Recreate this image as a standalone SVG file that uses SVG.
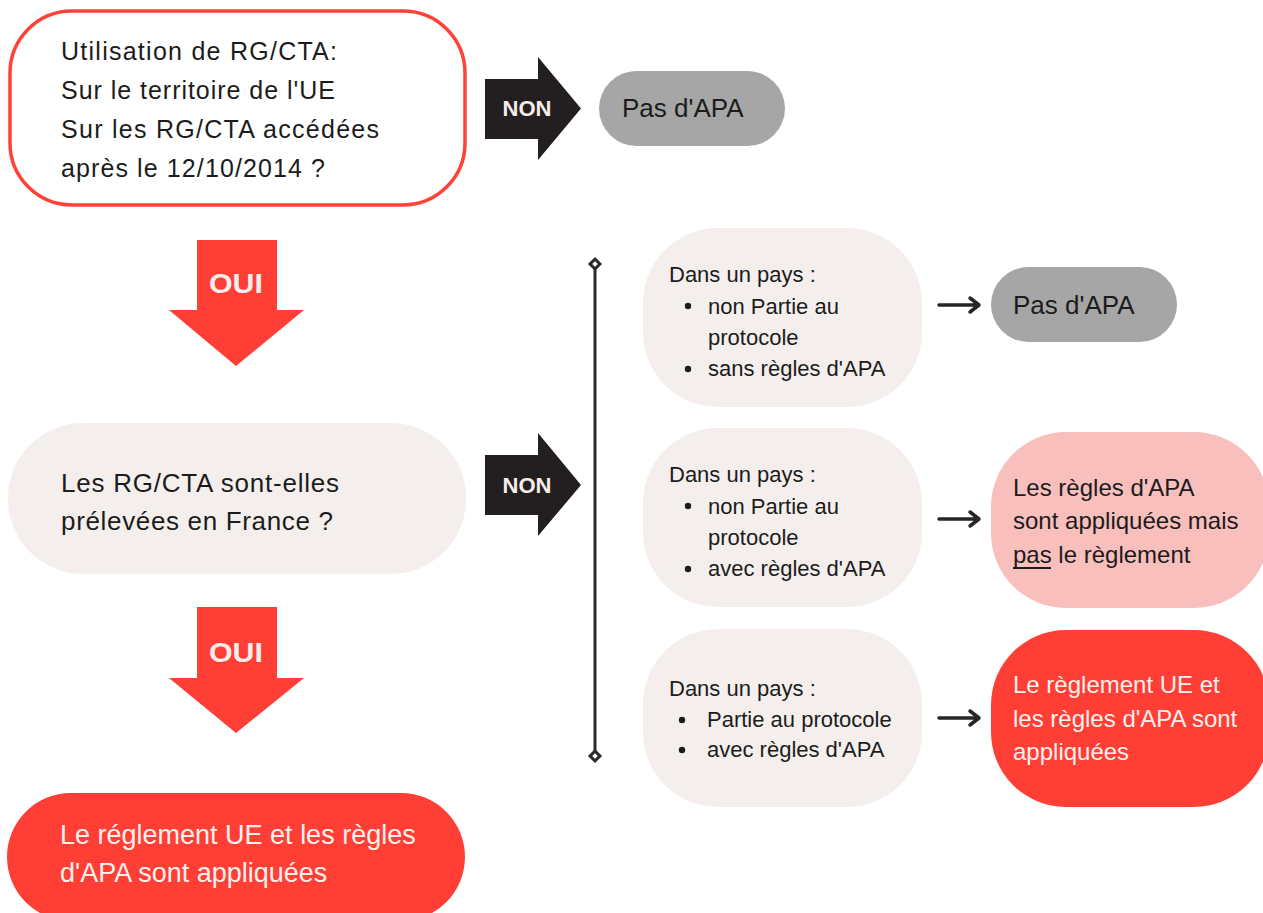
<svg xmlns="http://www.w3.org/2000/svg" width="1263" height="913" viewBox="0 0 1263 913">
<style>
  text { font-family: "Liberation Sans", Arial, sans-serif; }
  .dark { fill: #1c1c1c; }
  .t24 { font-size: 24px; }
  .t25 { font-size: 25px; }
  .t26 { font-size: 26px; }
  .t22 { font-size: 22px; }
  .light { fill: #fdf1ee; }
  .lbl { font-weight: bold; fill: #f5eeeb; text-anchor: middle; }
  .beige { fill: #f4efec; }
  .grey { fill: #a6a6a6; }
  .red { fill: #ff3e36; }
  .pink { fill: #f8bfbd; }
  .small { fill: none; stroke: #262626; stroke-width: 3.5; stroke-linecap: round; stroke-linejoin: round; }
  .diam { fill: #ffffff; stroke: #2b2b2b; stroke-width: 3; }
</style>
<rect width="1263" height="913" fill="#ffffff"/>

<g id="connectors">
  <g id="non1">
    <path d="M485,79 H538 V57 L581,108.5 L538,160 V139 H485 Z" fill="#231f20"/>
    <text class="lbl" x="527" y="116" font-size="22">NON</text>
  </g>
  <g id="oui1">
    <path d="M197,240 H277 V310 H304 L236,366 L169,310 H197 Z" class="red"/>
    <text class="lbl" x="236" y="293" font-size="27" textLength="54" lengthAdjust="spacingAndGlyphs">OUI</text>
  </g>
  <g id="non2">
    <path d="M485,455 H538 V433 L581,485 L538,536 V515 H485 Z" fill="#231f20"/>
    <text class="lbl" x="527" y="493" font-size="22">NON</text>
  </g>
  <g id="oui2">
    <path d="M197,607 H277 V678 H304 L236,733 L169,678 H197 Z" class="red"/>
    <text class="lbl" x="236" y="662" font-size="27" textLength="54" lengthAdjust="spacingAndGlyphs">OUI</text>
  </g>
  <g id="bracket">
    <line x1="595" y1="268" x2="595" y2="752" stroke="#2b2b2b" stroke-width="3"/>
    <rect x="591.5" y="260.5" width="7" height="7" transform="rotate(45 595 264)" class="diam"/>
    <rect x="591.5" y="752.5" width="7" height="7" transform="rotate(45 595 756)" class="diam"/>
  </g>
  <g id="arrow-a"><path class="small" d="M939,305 H978 M970,298 L979,305 L970,312"/></g>
  <g id="arrow-b"><path class="small" d="M939,519 H978 M970,512 L979,519 L970,526"/></g>
  <g id="arrow-c"><path class="small" d="M939,718 H978 M970,711 L979,718 L970,725"/></g>
</g>

<g id="node-question1">
  <rect x="10" y="11" width="455" height="194" rx="62" ry="62" fill="#ffffff" stroke="#ff4138" stroke-width="3.5"/>
  <text class="dark t25" x="61" y="60" textLength="276" lengthAdjust="spacing">Utilisation de RG/CTA:</text>
  <text class="dark t25" x="61" y="99" textLength="274" lengthAdjust="spacing">Sur le territoire de l'UE</text>
  <text class="dark t25" x="61" y="138" textLength="318" lengthAdjust="spacing">Sur les RG/CTA accédées</text>
  <text class="dark t25" x="61" y="177" textLength="264" lengthAdjust="spacing">après le 12/10/2014 ?</text>
</g>

<g id="node-pas-apa-1">
  <rect x="599" y="71" width="186" height="75" rx="37.5" class="grey"/>
  <text class="dark t26" x="622" y="117">Pas d'APA</text>
</g>

<g id="node-question2">
  <rect x="8" y="423" width="458" height="151" rx="75" class="beige"/>
  <text class="dark t26" x="61" y="492" textLength="278" lengthAdjust="spacing">Les RG/CTA sont-elles</text>
  <text class="dark t26" x="61" y="530" textLength="272" lengthAdjust="spacing">prélevées en France ?</text>
</g>

<g id="node-result-france">
  <rect x="7" y="793" width="458" height="128" rx="64" class="red"/>
  <text class="light" x="60" y="844" font-size="27">Le réglement UE et les règles</text>
  <text class="light" x="60" y="882" font-size="27">d'APA sont appliquées</text>
</g>

<g id="node-case1">
  <rect x="643" y="228" width="279" height="179" rx="75" class="beige"/>
  <text class="dark t22" x="669" y="282">Dans un pays :</text>
  <circle cx="688" cy="306" r="3.2" fill="#1c1c1c"/>
  <text class="dark t22" x="708" y="314">non Partie au</text>
  <text class="dark t22" x="708" y="345">protocole</text>
  <circle cx="688" cy="369" r="3.2" fill="#1c1c1c"/>
  <text class="dark t22" x="708" y="376">sans règles d'APA</text>
</g>

<g id="node-pas-apa-2">
  <rect x="991" y="267" width="186" height="75" rx="37.5" class="grey"/>
  <text class="dark t26" x="1013" y="314">Pas d'APA</text>
</g>

<g id="node-case2">
  <rect x="643" y="428" width="279" height="179" rx="75" class="beige"/>
  <text class="dark t22" x="669" y="482">Dans un pays :</text>
  <circle cx="688" cy="506" r="3.2" fill="#1c1c1c"/>
  <text class="dark t22" x="708" y="514">non Partie au</text>
  <text class="dark t22" x="708" y="545">protocole</text>
  <circle cx="688" cy="569" r="3.2" fill="#1c1c1c"/>
  <text class="dark t22" x="708" y="576">avec règles d'APA</text>
</g>

<g id="node-result2">
  <rect x="991" y="432" width="278" height="176" rx="75" class="pink"/>
  <text class="dark t24" x="1013" y="496">Les règles d'APA</text>
  <text class="dark t24" x="1013" y="529">sont appliquées mais</text>
  <text class="dark t24" x="1013" y="563">pas le règlement</text>
  <line x1="1013" y1="568" x2="1051" y2="568" stroke="#1c1c1c" stroke-width="2"/>
</g>

<g id="node-case3">
  <rect x="643" y="629" width="279" height="178" rx="75" class="beige"/>
  <text class="dark t22" x="669" y="696">Dans un pays :</text>
  <circle cx="682" cy="720" r="3.2" fill="#1c1c1c"/>
  <text class="dark t22" x="707" y="727">Partie au protocole</text>
  <circle cx="682" cy="750" r="3.2" fill="#1c1c1c"/>
  <text class="dark t22" x="707" y="757">avec règles d'APA</text>
</g>

<g id="node-result3">
  <rect x="991" y="630" width="278" height="177" rx="75" class="red"/>
  <text class="light t24" x="1013" y="693">Le règlement UE et</text>
  <text class="light t24" x="1013" y="727">les règles d'APA sont</text>
  <text class="light t24" x="1013" y="760">appliquées</text>
</g>
</svg>
